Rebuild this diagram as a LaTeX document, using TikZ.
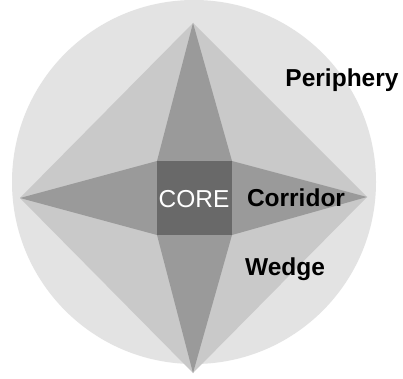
\documentclass[tikz,border=0pt]{standalone}
\usepackage{fontspec}
\setmainfont{Liberation Sans}
\definecolor{periph}{HTML}{E3E3E3}
\definecolor{wedgec}{HTML}{C9C9C9}
\definecolor{corrc}{HTML}{9A9A9A}
\definecolor{corec}{HTML}{696969}
\begin{document}
\begin{tikzpicture}[x=1pt,y=1pt,
  lbl/.style={font=\fontsize{24.5}{28}\selectfont\bfseries, text=black, inner sep=0pt, anchor=base},
  corelbl/.style={font=\fontsize{24.5}{28}\selectfont, text=white, inner sep=0pt, anchor=base}]
\useasboundingbox (0,0) rectangle (403,378);
\fill[white] (0,0) rectangle (403,378);
% periphery circle
\fill[periph] (194,196) circle (182);
% apexes
\coordinate (T) at (193,355);
\coordinate (B) at (193,5);
\coordinate (L) at (20,180);
\coordinate (R) at (367,181);
% wedge diamond
\fill[wedgec] (T) -- (R) -- (B) -- (L) -- cycle;
% corridor star
\fill[corrc] (T) -- (232,217) -- (R) -- (232,143) -- (B) -- (157,143) -- (L) -- (157,217) -- cycle;
% core
\fill[corec] (157,143) rectangle (232,217);
% labels
\node[corelbl] (core) at (194,171) {CORE};
\node[lbl] (corridor) at (296,172) {Corridor};
\node[lbl] (wedge) at (285,103) {Wedge};
\node[lbl] (periphery) at (342,291) {Periphery};
\end{tikzpicture}
\end{document}
